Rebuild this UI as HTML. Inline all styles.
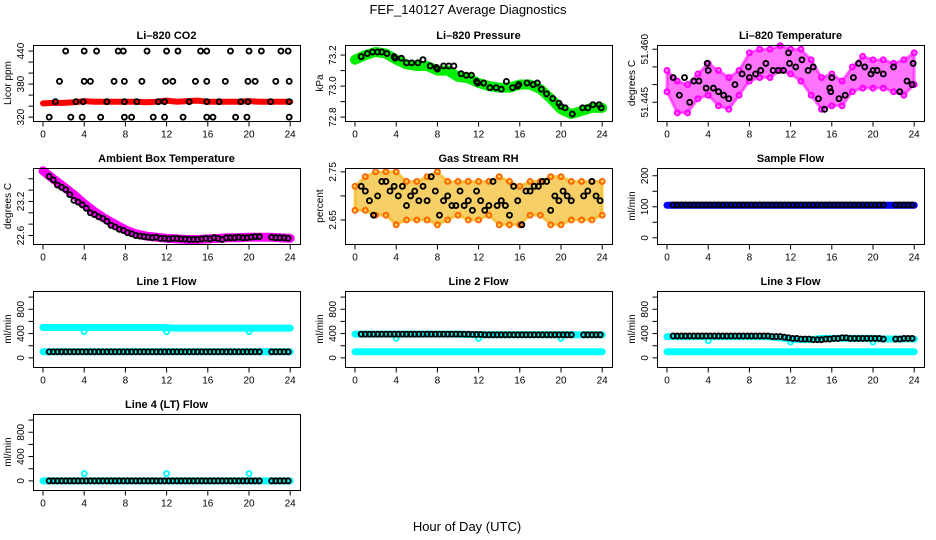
<!DOCTYPE html>
<html><head><meta charset="utf-8"><style>
html,body{margin:0;padding:0;background:#fff;}
svg{display:block;font-family:"Liberation Sans",sans-serif;}
</style></head><body>
<svg id="chart" width="936" height="540" viewBox="0 0 936 540" xmlns="http://www.w3.org/2000/svg">
<rect width="936" height="540" fill="#fff"/>
<text x="468" y="14" text-anchor="middle" font-size="13">FEF_140127  Average Diagnostics</text>
<text x="467" y="531" text-anchor="middle" font-size="13">Hour of Day (UTC)</text>
</svg>
<script>
// ---- shared categories ----
const hours = [0,1,2,3,4,5,6,7,8,9,10,11,12,13,14,15,16,17,18,19,20,21,22,23,24];
const flowHours = [0.6,1.0,1.4,1.8,2.2,2.6,3.0,3.4,3.8,4.2,4.6,5.0,5.4,5.8,6.2,6.6,7.0,7.4,7.8,8.2,8.6,9.0,9.4,9.8,10.2,10.6,11.0,11.4,11.8,12.2,12.6,13.0,13.4,13.8,14.2,14.6,15.0,15.4,15.8,16.2,16.6,17.0,17.4,17.8,18.2,18.6,19.0,19.4,19.8,20.2,20.6,21.0,22.2,22.6,23.0,23.4,23.8];
const xTicks = [0,4,8,12,16,20,24];

// ---- CO2 ----
const co2Red = [345,346,346,347,349,348,348,348,348,348,347,348,350,348,349,350,348,348,348,348,349,348,348,348,348];
const co2H440 = [2.2,4,5.2,7.3,7.8,10.1,12,13.1,15.3,15.9,18.2,20,21.2,23.1,23.8];
const co2H385 = [1.6,4,4.6,6.9,7.9,9.6,11.9,12.6,14.8,15.9,17.7,19.9,20.6,22.6,23.9];
const co2H348 = [1.2,3.2,3.9,6.2,7.9,9.1,11.2,11.8,14.2,15.9,17.1,19.2,19.9,22.1,23.9];
const co2H320 = [0.6,2.7,3.8,5.6,7.9,8.6,10.7,11.8,13.6,15.9,16.5,18.7,19.8,23.9];
const co2Ticks = [320,340,360,380,400,420,440];
const co2Labels = [320,380,440];

// ---- Pressure ----
const presGreen = [73.17,73.20,73.22,73.21,73.17,73.14,73.13,73.13,73.10,73.10,73.06,73.05,73.02,73.00,72.99,72.99,73.01,73.01,72.98,72.92,72.85,72.82,72.84,72.86,72.86];
const presBlackH = [0.6,1.2,1.7,2.2,2.6,3.1,3.8,3.9,4.5,5,5.5,6.1,6.6,7.3,7.9,8,8.6,9.1,9.6,10.3,10.8,11.3,11.8,11.9,12.5,13.1,13.7,14.2,14.7,15.3,15.8,15.9,16.7,17.3,17.7,18.1,18.6,19.2,19.8,20,20.4,21.1,22.1,22.6,23.1,23.7,23.9];
const presBlack = [73.19,73.21,73.22,73.22,73.22,73.21,73.19,73.18,73.18,73.15,73.15,73.15,73.17,73.13,73.12,73.11,73.13,73.13,73.13,73.08,73.07,73.07,73.03,73.02,73.02,72.99,72.99,72.98,73.03,72.99,73.00,73.01,73.02,73.01,73.02,72.98,72.95,72.92,72.89,72.87,72.86,72.82,72.86,72.86,72.88,72.88,72.86];
const presTicks = [72.8,72.9,73.0,73.1,73.2];
const presLabels = [72.8,73.0,73.2];

// ---- Li-820 Temperature ----
const tempHi = [51.454,51.451,51.450,51.453,51.456,51.454,51.452,51.454,51.459,51.460,51.460,51.461,51.460,51.460,51.457,51.452,51.453,51.451,51.455,51.458,51.457,51.457,51.456,51.457,51.459];
const tempLo = [51.448,51.442,51.442,51.446,51.447,51.444,51.443,51.447,51.451,51.452,51.452,51.454,51.453,51.451,51.447,51.443,51.444,51.444,51.448,51.449,51.449,51.449,51.448,51.447,51.450];
const tempBlackH = [0.6,1.2,1.7,2.2,2.6,3.1,3.8,3.9,4,4.5,5,5.5,6,6.6,7.3,7.9,8.0,8.6,9.1,9.6,10.3,10.8,11.3,11.8,11.9,12.5,13.1,13.7,14.2,14.7,15.3,15.8,15.9,16,16.7,17.3,18.1,18.6,19.2,19.8,20,20.4,21,22,22.6,23.3,23.8,23.9];
const tempBlack = [51.452,51.447,51.452,51.445,51.451,51.451,51.449,51.456,51.454,51.449,51.448,51.447,51.446,51.450,51.453,51.455,51.452,51.453,51.454,51.456,51.454,51.454,51.454,51.459,51.456,51.455,51.457,51.454,51.455,51.446,51.443,51.449,51.448,51.452,51.446,51.447,51.452,51.456,51.455,51.453,51.454,51.454,51.453,51.455,51.448,51.451,51.450,51.456];
const tempTicks = [51.445,51.450,51.455,51.460];
const tempLabels = [51.445,51.460];

// ---- Ambient Box Temperature ----
const ambMag = [23.74,23.60,23.46,23.32,23.16,23.02,22.90,22.80,22.70,22.63,22.59,22.57,22.55,22.54,22.53,22.53,22.54,22.55,22.56,22.56,22.57,22.57,22.57,22.56,22.55];
const ambBlack = [23.64,23.58,23.49,23.45,23.41,23.32,23.22,23.19,23.14,23.08,23.00,22.97,22.93,22.90,22.85,22.78,22.75,22.71,22.69,22.65,22.63,22.60,22.59,22.58,22.57,22.56,22.57,22.55,22.55,22.54,22.55,22.55,22.54,22.54,22.53,22.53,22.53,22.54,22.55,22.54,22.56,22.55,22.53,22.56,22.56,22.56,22.57,22.56,22.56,22.57,22.58,22.58,22.57,22.56,22.56,22.56,22.55];
const ambTicks = [22.6,22.8,23.0,23.2,23.4,23.6];
const ambLabels = [22.6,23.2];

// ---- Gas Stream RH ----
const rhHi = [2.72,2.74,2.75,2.75,2.75,2.73,2.73,2.74,2.75,2.73,2.73,2.73,2.73,2.73,2.74,2.73,2.72,2.73,2.73,2.74,2.74,2.73,2.73,2.73,2.73];
const rhLo = [2.67,2.67,2.66,2.66,2.64,2.65,2.65,2.65,2.64,2.65,2.66,2.65,2.65,2.66,2.64,2.64,2.64,2.66,2.66,2.64,2.64,2.65,2.65,2.65,2.66];
const rhBlack = [2.72,2.71,2.69,2.66,2.70,2.73,2.73,2.71,2.72,2.70,2.72,2.68,2.70,2.71,2.69,2.72,2.69,2.74,2.71,2.66,2.69,2.70,2.68,2.68,2.71,2.68,2.69,2.67,2.71,2.69,2.67,2.68,2.73,2.68,2.69,2.68,2.66,2.72,2.69,2.64,2.71,2.71,2.72,2.72,2.73,2.73,2.67,2.70,2.69,2.71,2.70,2.69,2.70,2.71,2.73,2.70,2.69];
const rhTicks = [2.65,2.70,2.75];
const rhLabels = [2.65,2.75];

// ---- Sample Flow ----
const sampleBlue = [105,105,105,105,105,105,105,105,105,105,105,105,105,105,105,105,105,105,105,105,105,105,105,105,105];
const sampleBlack = [106,106,106,106,106,106,106,106,106,106,106,106,106,106,106,106,106,106,106,106,106,106,106,106,106,106,106,106,106,106,106,106,106,106,106,106,106,106,106,106,106,106,106,106,106,106,106,106,106,106,106,106,106,106,106,106,106];
const sampleTicks = [0,50,100,150,200];
const sampleLabels = [0,100,200];

// ---- Line flows ----
const flowTicks = [0,200,400,600,800,1000];
const flowLabels = [0,400,800];
const outlierHours = [4,12,20];
const line1CyanHi = [500,500,500,500,500,500,500,500,500,500,500,500,495,490,490,490,490,490,490,490,490,490,490,490,490];
const line1CyanLo = [100,100,100,100,100,100,100,100,100,100,100,100,100,100,100,100,100,100,100,100,100,100,100,100,100];
const line1Out = [430,430,430];
const line1Black = [100,100,100,100,100,100,100,100,100,100,100,100,100,100,100,100,100,100,100,100,100,100,100,100,100,100,100,100,100,100,100,100,100,100,100,100,100,100,100,100,100,100,100,100,100,100,100,100,100,100,100,100,100,100,100,100,100];
const line2CyanHi = [390,390,390,390,390,390,390,390,390,390,390,385,380,380,380,380,380,380,380,380,380,380,380,380,380];
const line2CyanLo = [100,100,100,100,100,100,100,100,100,100,100,100,100,100,100,100,100,100,100,100,100,100,100,100,100];
const line2Out = [320,320,320];
const line2Black = [390,390,390,390,390,390,390,390,390,390,390,390,390,390,390,390,390,390,390,390,390,390,390,390,390,390,390,385,385,385,380,380,380,380,380,380,380,380,380,380,380,380,380,380,380,380,380,380,380,380,380,380,380,380,380,380,380];
const line3CyanHi = [350,350,350,350,350,350,350,350,350,350,345,330,310,300,300,320,320,320,320,320,320,310,310,310,310];
const line3CyanLo = [100,100,100,100,100,100,100,100,100,100,100,100,100,100,100,100,100,100,100,100,100,100,100,100,100];
const line3Out = [280,260,260];
const line3Black = [360,360,360,360,360,360,360,360,360,360,360,360,360,360,360,360,360,360,360,360,360,360,360,360,350,350,350,340,330,320,320,310,310,310,300,300,300,310,310,320,320,330,330,320,320,320,320,320,320,320,320,310,310,310,320,320,320];
const line4Cyan = [0,0,0,0,0,0,0,0,0,0,0,0,0,0,0,0,0,0,0,0,0,0,0,0,0];
const line4Out = [120,120,120];
const line4Black = [0,0,0,0,0,0,0,0,0,0,0,0,0,0,0,0,0,0,0,0,0,0,0,0,0,0,0,0,0,0,0,0,0,0,0,0,0,0,0,0,0,0,0,0,0,0,0,0,0,0,0,0,0,0,0,0,0];

const NS = "http://www.w3.org/2000/svg";
const svg = document.getElementById('chart');
const colX = [33,345,657], rowY = [45,168,291,414], PW = 267, PH = 76;

function mk(tag, attrs, parent){
  const e = document.createElementNS(NS, tag);
  for (const k in attrs) e.setAttribute(k, attrs[k]);
  parent.appendChild(e);
  return e;
}

function makePanel(col,row,name,title,ylabel,ymin,ymax,yticks,ylabels,dec){
  const x0 = colX[col], y0 = rowY[row];
  const g = mk('g',{},svg);
  
  
  const sx = h => x0 + 10 + h * 10.3;
  const sy = v => y0 + PH - (v - ymin) / (ymax - ymin) * PH;
  const plot = mk('g',{},g);
  
  
  const box = mk('rect',{x:x0+0.5,y:y0+0.5,width:PW,height:PH,fill:'none',stroke:'#000','stroke-width':1},g);
  
  
  const t = mk('text',{x:x0+PW/2,y:y0-6,'text-anchor':'middle','font-size':11,'font-weight':'bold'},g);
  t.textContent = title;
  
  
  const xa = mk('g',{},g);
  
  
  const yb = y0 + PH + 0.5;
  xTicks.forEach(h => {
    mk('line',{x1:sx(h),x2:sx(h),y1:yb,y2:yb+5,stroke:'#000'},xa);
    const l = mk('text',{x:sx(h),y:yb+16,'text-anchor':'middle','font-size':10},xa);
    l.textContent = h;
    
    
  });
  const ya = mk('g',{},g);
  
  
  const xl = x0 + 0.5;
  yticks.forEach(v => {
    mk('line',{x1:xl-5,x2:xl,y1:sy(v),y2:sy(v),stroke:'#000'},ya);
  });
  ylabels.forEach(v => {
    const tx = x0 - 9, ty = sy(v);
    const l = mk('text',{x:tx,y:ty,'text-anchor':'middle','font-size':10,transform:`rotate(-90 ${tx} ${ty})`},ya);
    l.textContent = v.toFixed(dec);
    
    
  });
  const lx = x0 - 22, ly = y0 + PH/2;
  const yl = mk('text',{x:lx,y:ly,'text-anchor':'middle','font-size':10,transform:`rotate(-90 ${lx} ${ly})`},g);
  yl.textContent = ylabel;
  
  
  return {g:plot, sx, sy};
}

function band(p, xs, vals, color, width, name){
  const pts = xs.map((h,i) => p.sx(h) + ',' + p.sy(vals[i])).join(' ');
  const e = mk('polyline',{points:pts,fill:'none',stroke:color,'stroke-width':width,'stroke-linejoin':'round','stroke-linecap':'round'},p.g);
  
  
}
function area(p, xs, hi, lo, color, op, name){
  const up = xs.map((h,i) => p.sx(h) + ',' + p.sy(hi[i]));
  const dn = xs.map((h,i) => p.sx(h) + ',' + p.sy(lo[i])).reverse();
  const e = mk('polygon',{points:up.concat(dn).join(' '),fill:color,'fill-opacity':op,stroke:color,'stroke-opacity':op,'stroke-width':3,'stroke-linejoin':'round'},p.g);
  
  
}
function pts(p, xs, vals, color, name){
  xs.forEach((h,i) => {
    const c = mk('circle',{cx:p.sx(h),cy:p.sy(vals[i]),r:2.5,fill:'none',stroke:color,'stroke-width':1.9},p.g);
    
    
  });
}
function constPts(p, xs, v, color, name){
  xs.forEach(h => {
    const c = mk('circle',{cx:p.sx(h),cy:p.sy(v),r:2.5,fill:'none',stroke:color,'stroke-width':1.9},p.g);
    
    
  });
}

// CO2
let p = makePanel(0,0,'co2','Li\u2013820 CO2','Licor ppm',313,451,co2Ticks,co2Labels,0);
band(p, hours, co2Red, '#ff0000', 6, 'co2-series');
constPts(p, co2H440, 440, '#000', 'co2-point');
constPts(p, co2H385, 385, '#000', 'co2-point');
constPts(p, co2H348, 348, '#000', 'co2-point');
constPts(p, co2H320, 320, '#000', 'co2-point');

// Pressure
p = makePanel(1,0,'pressure','Li\u2013820 Pressure','kPa',72.775,73.265,presTicks,presLabels,1);
band(p, hours, presGreen, '#00ee00', 10, 'pressure-series');
pts(p, presBlackH, presBlack, '#000', 'pressure-point');

// Temperature
p = makePanel(2,0,'li820-temp','Li\u2013820 Temperature','degrees C',51.4397,51.4612,tempTicks,tempLabels,3);
area(p, hours, tempHi, tempLo, '#ff00ff', 0.55, 'li820-temp-cloud');
pts(p, hours, tempHi, '#ff00ff', 'li820-temp-point');
pts(p, hours, tempLo, '#ff00ff', 'li820-temp-point');
pts(p, tempBlackH, tempBlack, '#000', 'li820-temp-avg-point');

// Ambient
p = makePanel(0,1,'ambient-temp','Ambient Box Temperature','degrees C',22.45,23.79,ambTicks,ambLabels,1);
band(p, hours, ambMag, '#ff00ff', 9, 'ambient-temp-series');
pts(p, flowHours, ambBlack, '#000', 'ambient-temp-point');

// RH
p = makePanel(1,1,'gas-rh','Gas Stream RH','percent',2.6,2.758,rhTicks,rhLabels,2);
area(p, hours, rhHi, rhLo, '#f0b000', 0.6, 'gas-rh-cloud');
pts(p, hours, rhHi, '#ff6600', 'gas-rh-point');
pts(p, hours, rhLo, '#ff6600', 'gas-rh-point');
pts(p, flowHours, rhBlack, '#000', 'gas-rh-avg-point');

// Sample flow
p = makePanel(2,1,'sample-flow','Sample Flow','ml/min',-20,225,sampleTicks,sampleLabels,0);
band(p, hours, sampleBlue, '#0000ff', 7, 'sample-flow-series');
pts(p, flowHours, sampleBlack, '#000', 'sample-flow-point');

// Line flows
const flowMin = -150, flowMax = 1100;
p = makePanel(0,2,'line1-flow','Line 1 Flow','ml/min',flowMin,flowMax,flowTicks,flowLabels,0);
band(p, hours, line1CyanHi, '#00ffff', 7, 'line1-high-series');
band(p, hours, line1CyanLo, '#00ffff', 7, 'line1-low-series');
pts(p, outlierHours, line1Out, '#00ffff', 'line1-outlier');
pts(p, flowHours, line1Black, '#000', 'line1-point');

p = makePanel(1,2,'line2-flow','Line 2 Flow','ml/min',flowMin,flowMax,flowTicks,flowLabels,0);
band(p, hours, line2CyanHi, '#00ffff', 7, 'line2-high-series');
band(p, hours, line2CyanLo, '#00ffff', 7, 'line2-low-series');
pts(p, outlierHours, line2Out, '#00ffff', 'line2-outlier');
pts(p, flowHours, line2Black, '#000', 'line2-point');

p = makePanel(2,2,'line3-flow','Line 3 Flow','ml/min',flowMin,flowMax,flowTicks,flowLabels,0);
band(p, hours, line3CyanHi, '#00ffff', 7, 'line3-high-series');
band(p, hours, line3CyanLo, '#00ffff', 7, 'line3-low-series');
pts(p, outlierHours, line3Out, '#00ffff', 'line3-outlier');
pts(p, flowHours, line3Black, '#000', 'line3-point');

p = makePanel(0,3,'line4-flow','Line 4 (LT) Flow','ml/min',flowMin,flowMax,flowTicks,flowLabels,0);
band(p, hours, line4Cyan, '#00ffff', 7, 'line4-series');
pts(p, outlierHours, line4Out, '#00ffff', 'line4-outlier');
pts(p, flowHours, line4Black, '#000', 'line4-point');
</script>
</body></html>
